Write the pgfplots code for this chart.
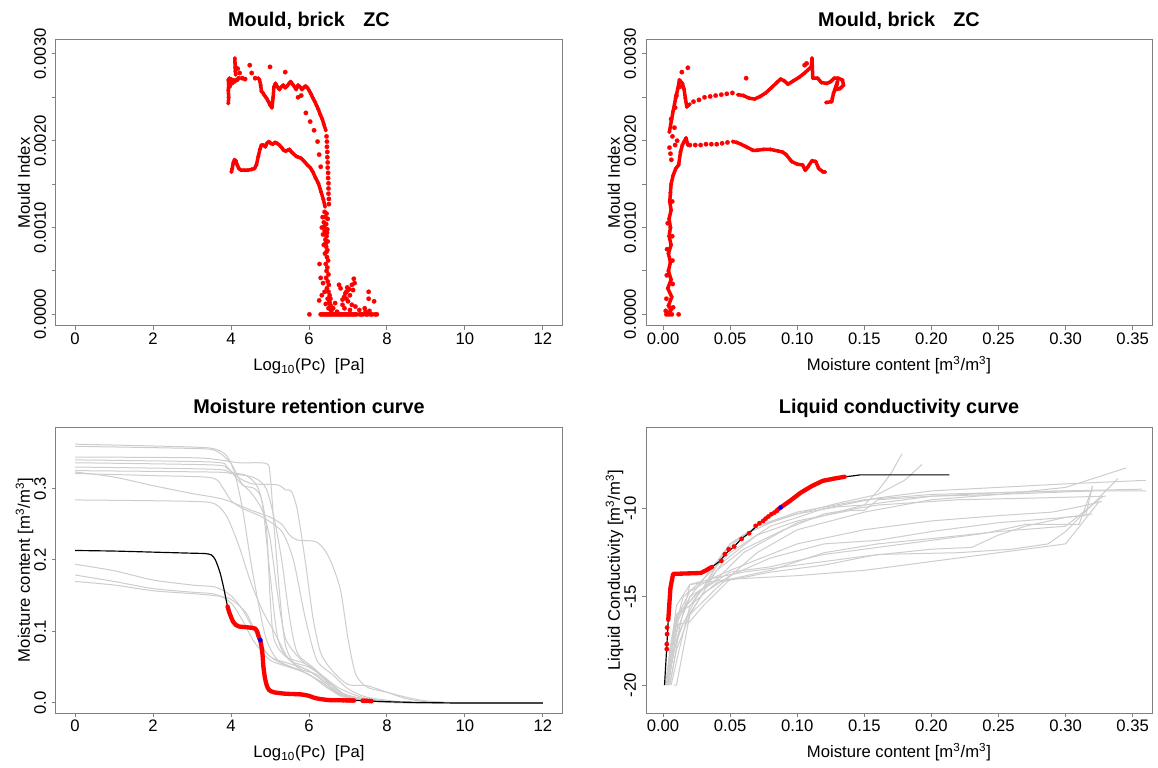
\documentclass[border=0pt]{standalone}
\usepackage{pgfplots}
\pgfplotsset{compat=1.18}
\usepackage{fontspec}
\setmainfont{Liberation Sans}
\definecolor{axgray}{RGB}{128,128,128}
\definecolor{lgray}{RGB}{205,205,205}
\pgfplotsset{
 rpanel/.style={
  scale only axis, width=303.6pt, height=171.6pt, anchor=south west,
  axis line style={axgray, line width=0.6pt},
  tick style={axgray, line width=0.6pt},
  major tick length=2.4pt,
  tick align=outside,
  tickpos=left,
  tick label style={font=\fontsize{10}{12}\selectfont, text=black},
  /pgf/number format/assume math mode=true,
  xticklabel shift=-2pt,
  yticklabel style={rotate=90, anchor=south},
  label style={font=\fontsize{10}{12}\selectfont},
  xlabel style={at={(axis description cs:0.5,-0.157)}, anchor=base},
  ylabel style={at={(axis description cs:-0.0514,0.5)}, anchor=base},
  every axis title/.style={at={(axis description cs:0.5,1.0472)}, anchor=base, font=\fontsize{11.9}{14}\selectfont\bfseries},
  scaled ticks=false,
 },
 rmark/.style={only marks, red, mark=*, mark size=1.35pt, mark options={solid, fill=red, draw=red, line width=0.1pt}},
 rdense/.style={red, line width=2.1pt, line join=round, line cap=round, mark=*, mark size=1.15pt, mark options={solid, fill=red, draw=red, line width=0.1pt}},
 gcurve/.style={lgray, line width=0.6pt, smooth, tension=0.45, no marks},
 gline/.style={lgray, line width=0.6pt, no marks},
 p12x/.style={xmin=-0.49, xmax=12.49, xtick={0,2,4,6,8,10,12}, xticklabels={0,2,4,6,8,10,12}},
 p035x/.style={xmin=-0.0127, xmax=0.3644, xtick={0,0.05,0.1,0.15,0.2,0.25,0.3,0.35}, xticklabels={0.00,0.05,0.10,0.15,0.20,0.25,0.30,0.35}},
 mouldy/.style={ymin=-0.000134, ymax=0.00316, ytick={0,0.0005,0.001,0.0015,0.002,0.0025,0.003}, yticklabels={0.0000,,0.0010,,0.0020,,0.0030}},
}
\begin{document}
\begin{tikzpicture}
\useasboundingbox (0,0) rectangle (694.8pt,460.2pt);
% ---------------- Panel 1 ----------------
\begin{axis}[rpanel, at={(33.6pt,264.6pt)}, p12x, mouldy,
  title={Mould, brick\hspace{11pt}ZC},
  xlabel={Log\textsubscript{10}(Pc)\ \ [Pa]}, ylabel={Mould Index}]
\addplot[rdense] coordinates {(3.93,0.00243)(3.94,0.00250)(3.93,0.00258)(3.94,0.00265)(3.93,0.00270)(3.96,0.00272)(3.97,0.00262)(3.99,0.00268)(4.01,0.00271)(4.04,0.00266)(4.07,0.00270)(4.10,0.00268)};
\addplot[rdense] coordinates {(4.10,0.00295)(4.10,0.00290)(4.11,0.00285)(4.11,0.00280)(4.12,0.00276)};
\addplot[rmark] coordinates {(4.12,0.00284)(4.17,0.00283)(4.20,0.00272)(4.29,0.00272)(4.48,0.00287)(4.53,0.00278)(4.62,0.00272)(5.00,0.00285)(5.39,0.00279)(4.22,0.00278)(4.36,0.00271)(4.15,0.00270)};
\addplot[rdense] coordinates {(4.70,0.00272)(4.73,0.00270)(4.76,0.00264)(4.78,0.00257)(4.82,0.00255)(4.86,0.00252)(4.91,0.00249)(4.96,0.00245)(5.00,0.00241)(5.05,0.00238)(5.08,0.00250)(5.10,0.00262)(5.14,0.00266)(5.19,0.00262)(5.24,0.00259)(5.29,0.00262)(5.34,0.00264)(5.39,0.00261)(5.44,0.00263)(5.49,0.00266)(5.53,0.00268)(5.58,0.00265)(5.63,0.00262)(5.67,0.00259)(5.72,0.00264)(5.77,0.00262)(5.82,0.00259)(5.86,0.00261)(5.91,0.00263)(5.96,0.00261)(6.00,0.00258)(6.05,0.00254)(6.10,0.00249)(6.15,0.00245)(6.20,0.00240)(6.24,0.00236)(6.29,0.00230)(6.34,0.00225)(6.38,0.00219)(6.43,0.00212)};
\addplot[rmark] coordinates {(5.92,0.00232)(6.03,0.00222)(6.13,0.00212)(6.22,0.00199)(6.26,0.00184)(6.30,0.00170)(6.45,0.00205)(6.46,0.00199)(6.46,0.00193)(6.47,0.00187)(6.47,0.00181)(6.48,0.00175)(6.48,0.00169)(6.49,0.00163)(6.49,0.00157)(6.50,0.00151)(6.50,0.00145)(6.50,0.00139)(6.51,0.00133)(6.51,0.00127)(5.72,0.00250)(5.80,0.00252)};
\addplot[rdense] coordinates {(4.01,0.00164)(4.03,0.00168)(4.06,0.00175)(4.09,0.00178)(4.12,0.00177)(4.16,0.00172)(4.20,0.00168)(4.26,0.00166)(4.34,0.00166)(4.43,0.00166)(4.53,0.00167)(4.60,0.00168)(4.65,0.00172)(4.70,0.00182)(4.74,0.00190)(4.78,0.00195)(4.83,0.00195)(4.88,0.00193)(4.92,0.00197)(4.97,0.00199)(5.02,0.00197)(5.07,0.00196)(5.13,0.00198)(5.18,0.00197)(5.24,0.00195)(5.30,0.00192)(5.35,0.00189)(5.40,0.00188)(5.45,0.00189)(5.50,0.00190)(5.55,0.00187)(5.60,0.00185)(5.67,0.00182)(5.73,0.00181)(5.79,0.00180)(5.84,0.00178)(5.88,0.00176)(5.96,0.00172)(6.03,0.00169)(6.10,0.00164)(6.17,0.00157)(6.24,0.00151)(6.31,0.00141)(6.37,0.00132)(6.41,0.00124)};
\addplot[rmark] coordinates {(6.40,0.00118)(6.45,0.00116)(6.35,0.00112)(6.48,0.00110)(6.38,0.00106)(6.44,0.00104)(6.33,0.00100)(6.47,0.00098)(6.40,0.00096)(6.36,0.00092)(6.45,0.00090)(6.42,0.00086)(6.48,0.00084)(6.38,0.00080)(6.44,0.00078)(6.47,0.00074)(6.41,0.00070)(6.46,0.00066)(6.49,0.00062)(6.43,0.00058)(6.47,0.00054)(6.45,0.00050)(6.50,0.00046)(6.44,0.00042)(6.48,0.00038)(6.51,0.00034)(6.46,0.00030)(6.50,0.00026)(6.53,0.00022)(6.48,0.00018)(6.52,0.00014)(6.55,0.00010)(6.50,0.00007)(6.57,0.00004)(6.27,0.00058)(6.30,0.00042)(6.36,0.00036)(6.26,0.00016)(6.33,0.00022)(6.40,0.00026)(6.43,0.00012)(6.55,0.00018)(6.42,0.00112)(6.39,0.00101)(6.46,0.00094)(6.43,0.00082)(6.45,0.00072)};
\addplot[rmark] coordinates {(6.01,0)(6.30,0)(6.34,0)(6.38,0)(6.42,0)(6.46,0)(6.50,0)(6.54,0)(6.58,0)(6.62,0)(6.66,0)(6.70,0)(6.74,0)(6.78,0)(6.82,0)(6.86,0)(6.90,0)(6.94,0)(6.98,0)(7.02,0)(7.06,0)(7.10,0)(7.14,0)(7.18,0)(7.22,0)(7.30,0)(7.34,0)(7.38,0)(7.46,0)(7.50,0)(7.58,0)(7.62,0)(7.70,0)(7.74,0)};
\addplot[rmark] coordinates {(6.77,0.00034)(6.81,0.00030)(6.96,0.00026)(7.00,0.00028)(7.05,0.00022)(7.10,0.00034)(7.15,0.00041)(7.17,0.00036)(6.86,0.00017)(6.91,0.00007)(7.00,0.00015)(6.67,0.00013)(7.53,0.00026)(7.53,0.00018)(7.67,0.00015)(7.43,0.00007)(7.29,0.00005)(7.19,0.00009)(7.10,0.00011)(7.05,0.00005)(6.62,0.00007)(6.72,0.00003)(6.53,0.00013)(6.57,0.00009)(6.86,0.00011)(6.96,0.00018)(6.90,0.00020)(6.93,0.00024)(6.98,0.00031)(7.03,0.00029)(7.13,0.00028)(7.55,0.00004)(7.45,0.00003)};
\end{axis}
% ---------------- Panel 2 ----------------
\begin{axis}[rpanel, at={(387.6pt,264.6pt)}, p035x, mouldy,
  title={Mould, brick\hspace{11pt}ZC},
  xlabel={Moisture content [m\textsuperscript{3}/m\textsuperscript{3}]}, ylabel={Mould Index}]
\addplot[rdense] coordinates {(0.003,0)(0.006,0.00005)(0.004,0.0001)(0.0065,0.0002)(0.0035,0.0003)(0.006,0.0004)(0.004,0.0005)(0.0055,0.0006)(0.004,0.0007)(0.006,0.0008)(0.0045,0.0009)(0.0055,0.001)(0.0045,0.0011)(0.006,0.0012)(0.005,0.0013)(0.0055,0.0014)(0.006,0.0015)(0.0075,0.0016)(0.0095,0.00168)(0.0116,0.00172)(0.013,0.00187)(0.0144,0.00195)(0.0157,0.00199)(0.0171,0.00203)(0.0185,0.00195)};
\addplot[rmark] coordinates {(0.0025,0)(0.0045,0)(0.0065,0)(0.0116,0)(0.002,0.00004)(0.0075,0.00008)(0.0025,0.00018)(0.0072,0.00035)(0.0028,0.00045)(0.007,0.00062)(0.003,0.00075)(0.0068,0.0009)(0.0035,0.00105)(0.0068,0.0013)(0.0055,0.00185)(0.0062,0.00178)(0.0048,0.00192)(0.0070,0.00205)(0.0085,0.00215)(0.0060,0.00225)(0.0090,0.00238)(0.0100,0.00252)(0.0125,0.00262)(0.0140,0.00279)(0.0185,0.00284)(0.0619,0.00272)(0.009,0.00195)(0.0105,0.00200)(0.1055,0.00287)(0.107,0.00289)};
\addplot[rmark] coordinates {(0.020,0.00195)(0.024,0.00195)(0.028,0.00195)(0.032,0.00196)(0.036,0.00196)(0.040,0.00196)(0.044,0.00197)(0.048,0.00198)};
\addplot[rdense] coordinates {(0.052,0.00199)(0.055,0.00198)(0.058,0.00196)(0.062,0.00193)(0.0669,0.00189)(0.070,0.00189)(0.075,0.00190)(0.080,0.00190)(0.086,0.00188)(0.089,0.00187)(0.0917,0.00184)(0.0959,0.00176)(0.100,0.00173)(0.104,0.00172)(0.106,0.00166)(0.108,0.00170)(0.111,0.00177)(0.1138,0.00176)(0.116,0.00168)(0.1193,0.00164)(0.1207,0.00164)};
\addplot[rdense] coordinates {(0.0047,0.00210)(0.0075,0.00234)(0.0094,0.00249)(0.0110,0.00260)(0.0122,0.00270)(0.0144,0.00266)(0.0157,0.00259)(0.0166,0.00249)(0.0177,0.00239)(0.0199,0.00242)};
\addplot[rmark] coordinates {(0.0227,0.00245)(0.0268,0.00247)(0.0309,0.00250)(0.0351,0.00251)(0.0392,0.00252)(0.0434,0.00253)(0.0475,0.00254)(0.0517,0.00255)};
\addplot[rdense] coordinates {(0.0558,0.00253)(0.0599,0.00252)(0.0641,0.00249)(0.0682,0.00248)(0.0724,0.00251)(0.0765,0.00255)(0.0807,0.00261)(0.0848,0.00267)(0.0876,0.00271)(0.0903,0.00269)(0.0931,0.00265)(0.0972,0.00269)(0.1014,0.00273)(0.1055,0.00278)(0.1083,0.00282)(0.1105,0.00285)(0.1110,0.00295)(0.1116,0.00272)(0.1152,0.00272)(0.1180,0.00267)(0.1221,0.00266)(0.1249,0.00268)(0.1276,0.00272)(0.1304,0.00272)(0.1337,0.00270)(0.1345,0.00264)(0.1318,0.00260)(0.1290,0.00259)(0.1300,0.00268)(0.1271,0.00255)(0.1262,0.00249)(0.1257,0.00245)(0.1215,0.00244)};
\end{axis}
% ---------------- Panel 3 ----------------
\begin{axis}[rpanel, at={(33.6pt,32.4pt)}, p12x, ymin=-0.014, ymax=0.386,
  ytick={0,0.1,0.2,0.3}, yticklabels={0.0,0.1,0.2,0.3},
  title={Moisture retention curve},
  xlabel={Log\textsubscript{10}(Pc)\ \ [Pa]}, ylabel={Moisture content [m\textsuperscript{3}/m\textsuperscript{3}]}]
\addplot[gcurve] coordinates {(0,0.362)(3.0,0.358)(3.6,0.355)(3.9,0.345)(4.1,0.320)(4.3,0.270)(4.5,0.200)(4.7,0.140)(4.9,0.090)(5.2,0.060)(5.8,0.045)(6.3,0.030)(6.8,0.012)(7.5,0.004)(8.5,0.001)(9.5,0)(12,0)};
\addplot[gcurve] coordinates {(0,0.359)(3.0,0.356)(3.6,0.353)(4.0,0.335)(4.3,0.305)(4.6,0.300)(4.8,0.280)(5.0,0.180)(5.2,0.090)(5.5,0.060)(6.0,0.050)(6.4,0.035)(6.8,0.015)(7.5,0.005)(8.5,0.001)(9.5,0)(12,0)};
\addplot[gcurve] coordinates {(0,0.344)(3,0.343)(3.7,0.340)(4.2,0.336)(4.9,0.335)(5.0,0.320)(5.1,0.250)(5.25,0.150)(5.4,0.080)(5.7,0.050)(6.2,0.040)(6.6,0.025)(7.0,0.010)(7.8,0.003)(9,0)(12,0)};
\addplot[gcurve] coordinates {(0,0.340)(3.5,0.337)(3.9,0.330)(4.2,0.310)(4.5,0.295)(4.8,0.270)(5.0,0.230)(5.2,0.150)(5.4,0.090)(5.8,0.060)(6.3,0.040)(6.8,0.020)(7.5,0.006)(8.5,0.001)(9.5,0)(12,0)};
\addplot[gcurve] coordinates {(0,0.336)(3.5,0.333)(3.9,0.328)(4.2,0.315)(4.5,0.307)(4.7,0.306)(5.2,0.305)(5.4,0.298)(5.55,0.296)(5.7,0.270)(5.9,0.200)(6.1,0.120)(6.3,0.070)(6.6,0.045)(7.0,0.026)(7.5,0.024)(8.0,0.015)(8.5,0.006)(9.0,0.002)(10,0)(12,0)};
\addplot[gcurve] coordinates {(0,0.330)(3.5,0.327)(4.0,0.322)(4.4,0.318)(4.7,0.300)(4.9,0.250)(5.0,0.150)(5.1,0.090)(5.4,0.065)(5.9,0.055)(6.3,0.040)(6.7,0.015)(7.3,0.005)(8.5,0.001)(9.5,0)(12,0)};
\addplot[gcurve] coordinates {(0,0.325)(3.5,0.323)(4.0,0.321)(4.6,0.315)(4.9,0.300)(5.1,0.260)(5.3,0.200)(5.5,0.120)(5.7,0.070)(6.1,0.050)(6.5,0.030)(6.9,0.012)(7.5,0.004)(8.5,0.001)(9.5,0)(12,0)};
\addplot[gcurve] coordinates {(0,0.323)(1,0.316)(2,0.304)(3,0.293)(3.8,0.285)(4.5,0.270)(5.0,0.260)(5.3,0.250)(5.5,0.235)(5.7,0.228)(6.2,0.225)(6.5,0.205)(6.8,0.160)(7.0,0.090)(7.2,0.040)(7.5,0.022)(8.0,0.015)(8.5,0.008)(9,0.003)(10,0)(12,0)};
\addplot[gcurve] coordinates {(0,0.321)(2,0.318)(3.5,0.315)(3.8,0.300)(4.0,0.283)(4.3,0.272)(4.8,0.260)(5.3,0.240)(5.6,0.200)(5.9,0.120)(6.2,0.060)(6.6,0.040)(7.0,0.020)(7.5,0.008)(8.5,0.001)(9.5,0)(12,0)};
\addplot[gcurve] coordinates {(0,0.284)(3,0.282)(3.6,0.278)(3.9,0.260)(4.2,0.220)(4.5,0.170)(4.8,0.130)(5.1,0.100)(5.5,0.060)(6.0,0.045)(6.4,0.030)(6.8,0.012)(7.5,0.004)(8.5,0.001)(9.5,0)(12,0)};
\addplot[gcurve] coordinates {(0,0.194)(1,0.185)(2,0.172)(3,0.165)(3.6,0.162)(4.0,0.150)(4.3,0.130)(4.6,0.100)(4.9,0.070)(5.3,0.055)(5.8,0.045)(6.3,0.030)(6.8,0.010)(7.5,0.003)(8.5,0)(12,0)};
\addplot[gcurve] coordinates {(0,0.179)(1,0.170)(2,0.160)(3,0.155)(3.6,0.152)(4.0,0.140)(4.3,0.115)(4.6,0.085)(5.0,0.060)(5.5,0.050)(6.0,0.040)(6.5,0.020)(7.0,0.008)(8,0.002)(9,0)(12,0)};
\addplot[gcurve] coordinates {(0,0.170)(1,0.165)(2,0.157)(3,0.153)(3.6,0.150)(4.0,0.145)(4.4,0.125)(4.7,0.090)(5.0,0.065)(5.5,0.055)(6.0,0.045)(6.5,0.025)(7.0,0.008)(8,0.002)(9,0)(12,0)};
\addplot[black, line width=0.7pt, smooth, tension=0.4, no marks] coordinates {(0,0.2133)(1,0.2125)(2,0.211)(3,0.2095)(3.34,0.209)(3.5,0.207)(3.6,0.200)(3.72,0.182)(3.82,0.159)(3.91,0.135)(3.96,0.126)(4.05,0.114)(4.13,0.109)(4.20,0.107)(4.39,0.106)(4.55,0.105)(4.62,0.104)(4.67,0.100)(4.72,0.091)(4.75,0.088)(4.80,0.072)(4.83,0.051)(4.87,0.035)(4.92,0.024)(4.98,0.018)(5.10,0.015)(5.39,0.013)(5.80,0.012)(6.00,0.010)(6.15,0.007)(6.30,0.0055)(6.53,0.0040)(7.20,0.0035)(7.62,0.0025)(8,0.0018)(8.53,0.001)(9.48,0.0002)(10,0)(12,0)};
\addplot[red, line width=2.6pt, smooth, tension=0.4, no marks, line cap=round] coordinates {(3.91,0.135)(3.96,0.126)(4.05,0.114)(4.13,0.109)(4.20,0.107)(4.39,0.106)(4.55,0.105)(4.62,0.104)(4.67,0.100)(4.72,0.091)(4.75,0.088)(4.80,0.072)(4.83,0.051)(4.87,0.035)(4.92,0.024)(4.98,0.018)(5.10,0.015)(5.39,0.013)(5.80,0.012)(6.00,0.010)(6.15,0.007)(6.30,0.0055)(6.53,0.0040)(6.90,0.0037)};
\addplot[rmark] coordinates {(6.95,0.0037)(7.00,0.0036)(7.05,0.0036)(7.10,0.0035)(7.15,0.0035)(7.38,0.0031)(7.43,0.0030)(7.48,0.0030)(7.55,0.0028)(7.60,0.0026)};
\addplot[only marks, mark=*, mark size=1.3pt, mark options={solid, fill=blue, draw=blue, line width=0.1pt}] coordinates {(4.75,0.088)};
\end{axis}
% ---------------- Panel 4 ----------------
\begin{axis}[rpanel, at={(387.6pt,32.4pt)}, p035x, ymin=-21.58, ymax=-5.38,
  ytick={-20,-15,-10}, yticklabels={-20,-15,-10},
  title={Liquid conductivity curve},
  xlabel={Moisture content [m\textsuperscript{3}/m\textsuperscript{3}]}, ylabel={Liquid Conductivity [m\textsuperscript{3}/m\textsuperscript{3}]}]
\addplot[gline] coordinates {(0.003,-20)(0.006,-17.5)(0.01,-16)(0.02,-15.5)(0.03,-14.5)(0.045,-12.5)(0.06,-11.5)(0.08,-10.8)(0.1,-10.3)(0.13,-9.9)(0.15,-9.8)(0.16,-9.0)(0.17,-8.0)(0.178,-6.9)};
\addplot[gline] coordinates {(0.002,-20)(0.005,-18)(0.01,-16.5)(0.02,-15)(0.035,-13.5)(0.05,-12)(0.07,-11)(0.1,-10.3)(0.13,-9.7)(0.16,-9.2)(0.18,-8.4)(0.193,-7.5)};
\addplot[gline] coordinates {(0.003,-20)(0.008,-17)(0.015,-15)(0.03,-14)(0.05,-12.5)(0.08,-11)(0.12,-10)(0.16,-9.4)(0.2,-9.0)(0.25,-8.8)(0.30,-8.6)(0.36,-8.4)};
\addplot[gline] coordinates {(0.004,-20)(0.01,-17)(0.02,-15)(0.04,-14)(0.06,-12.5)(0.1,-10.8)(0.15,-9.8)(0.2,-9.3)(0.25,-9.1)(0.3,-9.0)(0.357,-8.9)};
\addplot[gline] coordinates {(0.005,-20)(0.01,-18)(0.02,-16)(0.04,-14.5)(0.07,-12.5)(0.1,-11.2)(0.15,-10.2)(0.2,-9.5)(0.25,-9.2)(0.3,-8.8)(0.345,-7.7)};
\addplot[gline] coordinates {(0.003,-20)(0.008,-18)(0.015,-16.5)(0.03,-14.8)(0.05,-13.8)(0.08,-12.8)(0.12,-12)(0.16,-11.8)(0.2,-11.3)(0.25,-10.8)(0.3,-10.5)(0.315,-10.4)(0.32,-8.7)};
\addplot[gline] coordinates {(0.002,-20)(0.01,-16.6)(0.02,-16.4)(0.03,-15.5)(0.05,-14)(0.08,-13.5)(0.12,-12.5)(0.16,-12)(0.2,-11.7)(0.25,-11.3)(0.3,-11)(0.328,-9.3)};
\addplot[gline] coordinates {(0.006,-20)(0.012,-18)(0.02,-15.5)(0.04,-14.2)(0.08,-13.6)(0.12,-13.2)(0.16,-12.6)(0.22,-12.5)(0.26,-12.3)(0.287,-12.0)(0.3,-11.3)(0.339,-8.3)};
\addplot[gline] coordinates {(0.003,-20)(0.01,-17.5)(0.02,-14.3)(0.05,-14)(0.1,-13.8)(0.15,-13.5)(0.2,-13)(0.25,-12.5)(0.3,-12)(0.325,-9.6)};
\addplot[gline] coordinates {(0.004,-20)(0.012,-16)(0.025,-14.8)(0.05,-13.6)(0.08,-13.3)(0.12,-12.6)(0.16,-12.2)(0.2,-11.8)(0.24,-11.4)(0.27,-10.9)(0.31,-10.9)(0.32,-8.8)};
\addplot[gline] coordinates {(0.003,-20)(0.01,-16)(0.03,-14.5)(0.05,-12)(0.07,-11)(0.1,-10.2)(0.15,-9.5)(0.2,-9.2)(0.25,-9.1)(0.3,-9.0)(0.36,-9.0)};
\addplot[gline] coordinates {(0.005,-20)(0.012,-17)(0.025,-15)(0.045,-13)(0.07,-11.5)(0.1,-10.7)(0.14,-10.1)(0.15,-10.1)(0.16,-9.5)(0.2,-9.3)(0.25,-9.2)(0.32,-9.0)};
\addplot[gline] coordinates {(0.008,-20)(0.01,-20)(0.02,-16)(0.04,-13.5)(0.06,-12.3)(0.09,-11.2)(0.12,-10.3)(0.16,-9.8)(0.22,-9.5)(0.28,-9.4)(0.33,-9.3)};
\addplot[gline] coordinates {(0.002,-20)(0.01,-15.5)(0.02,-14.3)(0.04,-13.9)(0.06,-13.6)(0.1,-13.2)(0.15,-12.7)(0.2,-12.3)(0.23,-12.2)(0.25,-11.5)(0.27,-11)(0.3,-10.5)(0.32,-10.3)};
\addplot[gline] coordinates {(0.004,-20)(0.01,-16.2)(0.02,-14.7)(0.035,-14)(0.05,-13.5)(0.1,-12)(0.15,-11.2)(0.2,-10.7)(0.25,-10.4)(0.29,-10.2)(0.31,-9.9)(0.327,-9.6)};
\addplot[black, line width=0.7pt, no marks] coordinates {(0.0011,-20)(0.0028,-17.8)(0.0039,-16.3)(0.0055,-14.5)(0.0075,-13.7)(0.028,-13.65)(0.032,-13.5)(0.0365,-13.3)(0.042,-13.0)(0.0475,-12.5)(0.053,-12.15)(0.0586,-11.7)(0.064,-11.4)(0.0696,-11.0)(0.075,-10.6)(0.0807,-10.3)(0.0876,-9.94)(0.0945,-9.57)(0.1028,-9.09)(0.111,-8.72)(0.119,-8.43)(0.1276,-8.3)(0.1354,-8.2)(0.1414,-8.15)(0.147,-8.09)(0.2133,-8.09)};
\addplot[red, line width=2.6pt, no marks, line cap=round, line join=round] coordinates {(0.0039,-16.3)(0.0055,-14.5)(0.0075,-13.7)(0.028,-13.65)(0.032,-13.5)(0.0365,-13.3)};
\addplot[rmark] coordinates {(0.0030,-16.74)(0.0030,-17.11)(0.0028,-17.68)(0.0028,-17.96)(0.0434,-12.96)(0.0461,-12.58)(0.0489,-12.30)(0.0530,-12.15)(0.0586,-11.72)(0.0641,-11.40)(0.0690,-10.98)(0.0718,-10.83)(0.0746,-10.70)(0.0765,-10.57)(0.0785,-10.45)(0.0807,-10.32)(0.0829,-10.23)(0.0848,-10.13)};
\addplot[red, line width=2.6pt, no marks, line cap=round, line join=round] coordinates {(0.0848,-10.10)(0.0876,-9.94)(0.0945,-9.57)(0.1028,-9.09)(0.111,-8.72)(0.119,-8.43)(0.1276,-8.3)(0.1354,-8.2)};
\addplot[only marks, mark=*, mark size=1.3pt, mark options={solid, fill=blue, draw=blue, line width=0.1pt}] coordinates {(0.0876,-9.94)};
\end{axis}
\end{tikzpicture}
\end{document}
